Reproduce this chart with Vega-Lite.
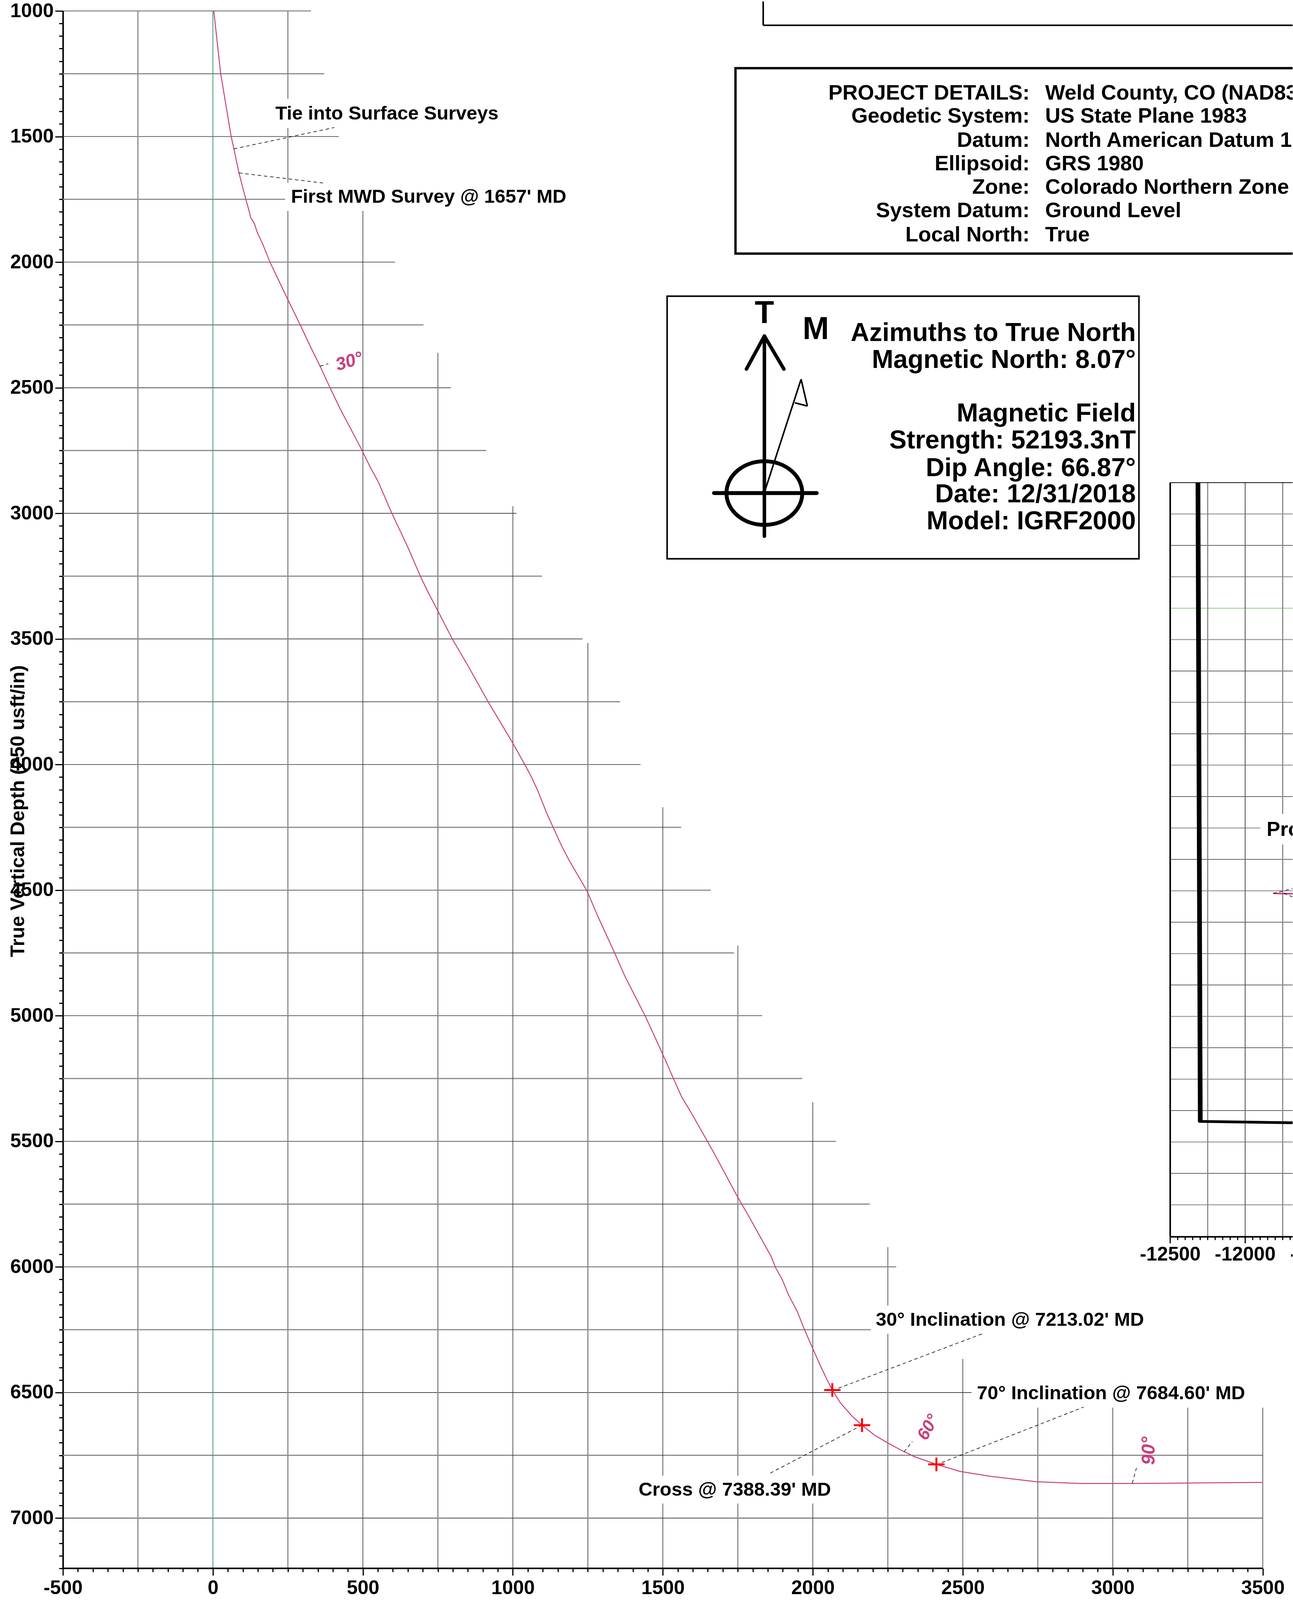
{
"$schema": "https://vega.github.io/schema/vega-lite/v6.json",
"width": 3309,
"height": 4090,
"autosize": {"type": "fit", "contains": "padding"},
"padding": {"left": 21, "top": 0, "right": 0, "bottom": 0},
"background": "white",
"config": {"view": {"stroke": null}, "font": "Liberation Sans"},
"encoding": {
  "x": {"field": "x", "type": "quantitative", "scale": {"domain": [-500, 3599.5], "nice": false, "zero": false},
    "axis": {"values": [-500,-450,-400,-350,-300,-250,-200,-150,-100,-50,0,50,100,150,200,250,300,350,400,450,500,550,600,650,700,750,800,850,900,950,1000,1050,1100,1150,1200,1250,1300,1350,1400,1450,1500,1550,1600,1650,1700,1750,1800,1850,1900,1950,2000,2050,2100,2150,2200,2250,2300,2350,2400,2450,2500,2550,2600,2650,2700,2750,2800,2850,2900,2950,3000,3050,3100,3150,3200,3250,3300,3350,3400,3450,3500],
      "labelExpr": "datum.value % 500 === 0 ? (datum.value < 0 ? '-' + abs(datum.value) : '' + datum.value) : ''",
      "labelOverlap": false, "labelFlush": false, "labelFont": "Liberation Sans", "labelFontSize": 50, "labelFontWeight": "bold", "labelColor": "black", "labelPadding": 7,
      "tickSize": {"condition": {"test": "datum.value % 500 === 0", "value": 18}, "value": 9},
      "tickWidth": 3, "tickColor": "black", "domain": false, "grid": false, "title": null}},
  "y": {"field": "y", "type": "quantitative", "scale": {"domain": [1000, 7200], "nice": false, "zero": false, "reverse": true},
    "axis": {"tickCount": 124, "labelExpr": "datum.value % 500 === 0 ? '' + datum.value : ''",
      "labelOverlap": false, "labelFlush": false, "labelFont": "Liberation Sans", "labelFontSize": 50, "labelFontWeight": "bold", "labelColor": "black", "labelPadding": 4,
      "tickSize": {"condition": {"test": "datum.value % 500 === 0", "value": 20}, "value": 10},
      "tickWidth": 3, "tickColor": "black", "domainColor": "black", "domainWidth": 4, "grid": false,
      "title": "True Vertical Depth (250 usft/in)", "titleFont": "Liberation Sans", "titleFontSize": 50, "titleFontWeight": "bold", "titleColor": "black",
      "titleX": -100, "titleY": 2048, "titleAngle": -90, "titleBaseline": "alphabetic", "titleAlign": "center"}}
},
"layer": [
  {"data": {"values": [
    {"x": -500, "y": 1250, "x2": 371}, {"x": -500, "y": 1750, "x2": 241}, {"x": -500, "y": 2250, "x2": 702},
    {"x": -500, "y": 2750, "x2": 911}, {"x": -500, "y": 3250, "x2": 1097}, {"x": -500, "y": 3750, "x2": 1357},
    {"x": -500, "y": 4250, "x2": 1561}, {"x": -500, "y": 4750, "x2": 1737}, {"x": -500, "y": 5250, "x2": 1965},
    {"x": -500, "y": 5750, "x2": 2190}, {"x": -500, "y": 6250, "x2": 2193}, {"x": -500, "y": 6750, "x2": 3500}]},
   "mark": {"type": "rule", "color": "#8a8a8a", "strokeWidth": 3}, "encoding": {"x2": {"field": "x2"}}},
  {"data": {"values": [
    {"x": -500, "y": 1000, "x2": 327}, {"x": -500, "y": 1500, "x2": 420}, {"x": -500, "y": 2000, "x2": 607},
    {"x": -500, "y": 2500, "x2": 793}, {"x": -500, "y": 3000, "x2": 1012}, {"x": -500, "y": 3500, "x2": 1232},
    {"x": -500, "y": 4000, "x2": 1426}, {"x": -500, "y": 4500, "x2": 1660}, {"x": -500, "y": 5000, "x2": 1831},
    {"x": -500, "y": 5500, "x2": 2077}, {"x": -500, "y": 6000, "x2": 2278}, {"x": -500, "y": 6500, "x2": 2529},
    {"x": -500, "y": 7000, "x2": 3500}]},
   "mark": {"type": "rule", "color": "#333333", "strokeWidth": 1.6}, "encoding": {"x2": {"field": "x2"}}},
  {"data": {"values": [
    {"x": -250, "y": 1000, "y2": 7200}, {"x": 250, "y": 1000, "y2": 7200}, {"x": 750, "y": 2361, "y2": 7200},
    {"x": 1250, "y": 3516, "y2": 7200}, {"x": 1750, "y": 4721, "y2": 7200}, {"x": 2250, "y": 5921, "y2": 7200},
    {"x": 2750, "y": 6560, "y2": 7200}, {"x": 3250, "y": 6560, "y2": 7200}]},
   "mark": {"type": "rule", "color": "#8a8a8a", "strokeWidth": 3}, "encoding": {"y2": {"field": "y2"}}},
  {"data": {"values": [
    {"x": 500, "y": 1700, "y2": 7200}, {"x": 1000, "y": 2972, "y2": 7200}, {"x": 1500, "y": 4170, "y2": 7200},
    {"x": 2000, "y": 5345, "y2": 7200}, {"x": 2500, "y": 6366, "y2": 7200}, {"x": 3000, "y": 6560, "y2": 7200},
    {"x": 3500, "y": 6560, "y2": 7200}]},
   "mark": {"type": "rule", "color": "#333333", "strokeWidth": 1.6}, "encoding": {"y2": {"field": "y2"}}},
  {"data": {"values": [{"x": 0, "y": 1000, "y2": 7200}]},
   "mark": {"type": "rule", "color": "#3c9a70", "strokeWidth": 2}, "encoding": {"y2": {"field": "y2"}}},
  {"data": {"values": [{"x": -500, "y": 7200, "x2": 3500}]},
   "mark": {"type": "rule", "color": "black", "strokeWidth": 4}, "encoding": {"x2": {"field": "x2"}}},
  {"data": {"values": [
    {"x": 200, "x2": 1030, "y": 1350, "y2": 1466}, {"x": 241, "x2": 1290, "y": 1684, "y2": 1796},
    {"x": 2195, "x2": 3210, "y": 6154, "y2": 6266}, {"x": 1400, "x2": 2130, "y": 6831, "y2": 6942}]},
   "mark": {"type": "rect", "fill": "white"}, "encoding": {"x2": {"field": "x2"}, "y2": {"field": "y2"}}},
  {"data": {"values": [{"x": 1834.6, "y": 962, "y2": 1057.3}]},
   "mark": {"type": "rule", "color": "black", "strokeWidth": 4}, "encoding": {"y2": {"field": "y2"}}},
  {"data": {"values": [{"x": 1834.6, "x2": 3599.5, "y": 1057.3}]},
   "mark": {"type": "rule", "color": "black", "strokeWidth": 4, "clip": true}, "encoding": {"x2": {"field": "x2"}}},
  {"data": {"values": [{"x": 1514.3, "x2": 3087.2, "y": 2135.4, "y2": 3181}]},
   "mark": {"type": "rect", "fill": "white", "stroke": "black", "strokeWidth": 4}, "encoding": {"x2": {"field": "x2"}, "y2": {"field": "y2"}}},
  {"data": {"values": [{"x": 1742.2, "x2": 3700, "y": 1227.9, "y2": 1966.1}]},
   "mark": {"type": "rect", "fill": "white", "stroke": "black", "strokeWidth": 6, "clip": true}, "encoding": {"x2": {"field": "x2"}, "y2": {"field": "y2"}}},
  {"data": {"values": [{"x": 3191.4, "x2": 3599.5, "y": 2877.6, "y2": 5880.2}]},
   "mark": {"type": "rect", "fill": "white", "clip": true}, "encoding": {"x2": {"field": "x2"}, "y2": {"field": "y2"}}},
  {"data": {"values": [
    {"x": 3191.4, "x2": 3599.5, "y": 3002.6}, {"x": 3191.4, "x2": 3599.5, "y": 3252.6}, {"x": 3191.4, "x2": 3599.5, "y": 3502.6},
    {"x": 3191.4, "x2": 3599.5, "y": 3752.6}, {"x": 3191.4, "x2": 3599.5, "y": 4002.6}, {"x": 3191.4, "x2": 3599.5, "y": 4252.6},
    {"x": 3191.4, "x2": 3599.5, "y": 4502.6}, {"x": 3191.4, "x2": 3599.5, "y": 4752.6}, {"x": 3191.4, "x2": 3599.5, "y": 5002.6},
    {"x": 3191.4, "x2": 3599.5, "y": 5252.6}, {"x": 3191.4, "x2": 3599.5, "y": 5502.6}, {"x": 3191.4, "x2": 3599.5, "y": 5752.6}]},
   "mark": {"type": "rule", "color": "#9a9a9a", "strokeWidth": 2.5, "clip": true}, "encoding": {"x2": {"field": "x2"}}},
  {"data": {"values": [
    {"x": 3191.4, "x2": 3599.5, "y": 3127.6}, {"x": 3191.4, "x2": 3599.5, "y": 3627.6}, {"x": 3191.4, "x2": 3599.5, "y": 3877.6},
    {"x": 3191.4, "x2": 3599.5, "y": 4127.6}, {"x": 3191.4, "x2": 3599.5, "y": 4377.6}, {"x": 3191.4, "x2": 3599.5, "y": 4627.6},
    {"x": 3191.4, "x2": 3599.5, "y": 4877.6}, {"x": 3191.4, "x2": 3599.5, "y": 5127.6}, {"x": 3191.4, "x2": 3599.5, "y": 5377.6},
    {"x": 3191.4, "x2": 3599.5, "y": 5627.6}]},
   "mark": {"type": "rule", "color": "#333333", "strokeWidth": 1.5, "clip": true}, "encoding": {"x2": {"field": "x2"}}},
  {"data": {"values": [{"x": 3191.4, "x2": 3599.5, "y": 3377.6}]},
   "mark": {"type": "rule", "color": "#5cc05c", "strokeWidth": 1.5, "clip": true}, "encoding": {"x2": {"field": "x2"}}},
  {"data": {"values": [{"x": 3316.4, "y": 2877.6, "y2": 5880.2}, {"x": 3566.4, "y": 2877.6, "y2": 5880.2}]},
   "mark": {"type": "rule", "color": "#8a8a8a", "strokeWidth": 3}, "encoding": {"y2": {"field": "y2"}}},
  {"data": {"values": [{"x": 3441.4, "y": 2877.6, "y2": 5880.2}]},
   "mark": {"type": "rule", "color": "#666666", "strokeWidth": 2.5}, "encoding": {"y2": {"field": "y2"}}},
  {"data": {"values": [{"x": 3492, "x2": 3599.5, "y": 4197, "y2": 4318}]},
   "mark": {"type": "rect", "fill": "white", "clip": true}, "encoding": {"x2": {"field": "x2"}, "y2": {"field": "y2"}}},
  {"data": {"values": [{"x": 3191.4, "y": 2877.6, "y2": 5880.2}]},
   "mark": {"type": "rule", "color": "black", "strokeWidth": 4}, "encoding": {"y2": {"field": "y2"}}},
  {"data": {"values": [{"x": 3191.4, "x2": 3599.5, "y": 5880.2}]},
   "mark": {"type": "rule", "color": "black", "strokeWidth": 4, "clip": true}, "encoding": {"x2": {"field": "x2"}}},
  {"data": {"values": [{"x": 3191.4, "x2": 3599.5, "y": 2877.6}]},
   "mark": {"type": "rule", "color": "black", "strokeWidth": 2, "clip": true}, "encoding": {"x2": {"field": "x2"}}},
  {"data": {"values": [
    {"x": 3216.4, "y": 5880.2, "y2": 5893}, {"x": 3241.4, "y": 5880.2, "y2": 5893}, {"x": 3266.4, "y": 5880.2, "y2": 5893},
    {"x": 3291.4, "y": 5880.2, "y2": 5893}, {"x": 3316.4, "y": 5880.2, "y2": 5893}, {"x": 3341.4, "y": 5880.2, "y2": 5893},
    {"x": 3366.4, "y": 5880.2, "y2": 5893}, {"x": 3391.4, "y": 5880.2, "y2": 5893}, {"x": 3416.4, "y": 5880.2, "y2": 5893},
    {"x": 3466.4, "y": 5880.2, "y2": 5893}, {"x": 3491.4, "y": 5880.2, "y2": 5893}, {"x": 3516.4, "y": 5880.2, "y2": 5893},
    {"x": 3541.4, "y": 5880.2, "y2": 5893}, {"x": 3566.4, "y": 5880.2, "y2": 5893}, {"x": 3591.4, "y": 5880.2, "y2": 5893},
    {"x": 3191.4, "y": 5880.2, "y2": 5906}, {"x": 3441.4, "y": 5880.2, "y2": 5906}]},
   "mark": {"type": "rule", "color": "black", "strokeWidth": 3}, "encoding": {"y2": {"field": "y2"}}},
  {"data": {"values": [{"x": 3191.4, "y": 5975, "t": "-12500"}, {"x": 3441.4, "y": 5975, "t": "-12000"}, {"x": 3691.4, "y": 5975, "t": "-11500"}]},
   "mark": {"type": "text", "font": "Liberation Sans", "fontSize": 50, "fontWeight": "bold", "align": "center", "baseline": "alphabetic", "color": "black", "clip": true},
   "encoding": {"text": {"field": "t"}}},
  {"data": {"values": [{"x": 3283.9, "y": 2877.6, "x2": 3291.7, "y2": 5423.2}]},
   "mark": {"type": "rule", "color": "black", "strokeWidth": 12}, "encoding": {"x2": {"field": "x2"}, "y2": {"field": "y2"}}},
  {"data": {"values": [{"x": 3286, "y": 5420.6, "x2": 3599.5, "y2": 5426}]},
   "mark": {"type": "rule", "color": "black", "strokeWidth": 7, "clip": true}, "encoding": {"x2": {"field": "x2"}, "y2": {"field": "y2"}}},
  {"data": {"values": [{"x": 3535.2, "y": 4513, "x2": 3599.5, "y2": 4514.5}]},
   "mark": {"type": "rule", "color": "#c8407f", "strokeWidth": 4, "clip": true}, "encoding": {"x2": {"field": "x2"}, "y2": {"field": "y2"}}},
  {"data": {"values": [{"x": 3513, "y": 4283.9, "t": "Project"}]},
   "mark": {"type": "text", "font": "Liberation Sans", "fontSize": 52, "fontWeight": "bold", "align": "left", "baseline": "alphabetic", "color": "black", "clip": true},
   "encoding": {"text": {"field": "t"}}},
  {"data": {"values": [
    {"x": 3, "y": 1000}, {"x": 26, "y": 1250}, {"x": 61, "y": 1500}, {"x": 70, "y": 1549}, {"x": 87, "y": 1645},
    {"x": 110, "y": 1751}, {"x": 119, "y": 1789}, {"x": 126, "y": 1822}, {"x": 139, "y": 1848}, {"x": 147, "y": 1879},
    {"x": 166, "y": 1928}, {"x": 191, "y": 2002}, {"x": 219, "y": 2072}, {"x": 249, "y": 2147}, {"x": 292, "y": 2252},
    {"x": 325, "y": 2336}, {"x": 358, "y": 2416}, {"x": 391, "y": 2501}, {"x": 425, "y": 2586}, {"x": 458, "y": 2660},
    {"x": 498, "y": 2751}, {"x": 524, "y": 2815}, {"x": 551, "y": 2874}, {"x": 571, "y": 2929}, {"x": 597, "y": 3001},
    {"x": 624, "y": 3069}, {"x": 651, "y": 3138}, {"x": 692, "y": 3251}, {"x": 716, "y": 3311}, {"x": 749, "y": 3386},
    {"x": 799, "y": 3502}, {"x": 851, "y": 3608}, {"x": 918, "y": 3751}, {"x": 999, "y": 3913}, {"x": 1041, "y": 4003},
    {"x": 1060, "y": 4045}, {"x": 1083, "y": 4104}, {"x": 1112, "y": 4191}, {"x": 1135, "y": 4252}, {"x": 1161, "y": 4320},
    {"x": 1187, "y": 4380}, {"x": 1247, "y": 4503}, {"x": 1284, "y": 4606}, {"x": 1340, "y": 4752}, {"x": 1374, "y": 4844},
    {"x": 1412, "y": 4933}, {"x": 1442, "y": 5003}, {"x": 1500, "y": 5154}, {"x": 1536, "y": 5252}, {"x": 1562, "y": 5321},
    {"x": 1592, "y": 5381}, {"x": 1650, "y": 5503}, {"x": 1674, "y": 5554}, {"x": 1749, "y": 5721}, {"x": 1786, "y": 5797},
    {"x": 1861, "y": 5958}, {"x": 1876, "y": 6003}, {"x": 1898, "y": 6050}, {"x": 1919, "y": 6111}, {"x": 1949, "y": 6180},
    {"x": 1973, "y": 6252}, {"x": 1998, "y": 6320}, {"x": 2024, "y": 6390}, {"x": 2047, "y": 6448}, {"x": 2065, "y": 6490},
    {"x": 2092, "y": 6541}, {"x": 2130, "y": 6593}, {"x": 2164, "y": 6630}, {"x": 2205, "y": 6669}, {"x": 2250, "y": 6701},
    {"x": 2295, "y": 6730}, {"x": 2340, "y": 6756}, {"x": 2412, "y": 6786}, {"x": 2490, "y": 6814}, {"x": 2595, "y": 6834},
    {"x": 2745, "y": 6855}, {"x": 2895, "y": 6862}, {"x": 3065, "y": 6862}, {"x": 3271, "y": 6860}, {"x": 3500, "y": 6858}]},
   "mark": {"type": "line", "color": "#c8407f", "strokeWidth": 2.5}, "encoding": {}},
  {"data": {"values": [
    {"x": 70, "y": 1549, "x2": 405, "y2": 1464}, {"x": 87, "y": 1645, "x2": 367, "y2": 1685},
    {"x": 358, "y": 2414, "x2": 385, "y2": 2404}, {"x": 2085, "y": 6483, "x2": 2565, "y2": 6266},
    {"x": 2164, "y": 6630, "x2": 1852, "y2": 6825}, {"x": 2430, "y": 6779, "x2": 2903, "y2": 6558},
    {"x": 2304, "y": 6736, "x2": 2332, "y2": 6695}, {"x": 3065, "y": 6861, "x2": 3079, "y2": 6800},
    {"x": 3535, "y": 4513, "x2": 3599, "y2": 4494}, {"x": 3570, "y": 4512, "x2": 3599, "y2": 4527}]},
   "mark": {"type": "rule", "color": "black", "strokeWidth": 1.5, "strokeDash": [9, 7]}, "encoding": {"x2": {"field": "x2"}, "y2": {"field": "y2"}}},
  {"data": {"values": [{"x": 2065, "y": 6490}, {"x": 2164, "y": 6630}, {"x": 2412, "y": 6786}]},
   "mark": {"type": "point", "shape": "M-1,0L1,0M0,-0.84L0,0.84", "size": 1764, "filled": false, "stroke": "#ff0000", "strokeWidth": 5, "opacity": 1}},
  {"data": {"values": [
    {"x": 208.3, "y": 1432.3, "t": "Tie into Surface Surveys"},
    {"x": 260.4, "y": 1764.3, "t": "First MWD Survey @  1657' MD"},
    {"x": 2210, "y": 6234, "t": "30° Inclination @  7213.02' MD"},
    {"x": 2547, "y": 6526, "t": "70° Inclination @ 7684.60' MD"},
    {"x": 1419, "y": 6910, "t": "Cross @ 7388.39' MD"}]},
   "mark": {"type": "text", "font": "Liberation Sans", "fontSize": 49, "fontWeight": "bold", "align": "left", "baseline": "alphabetic", "color": "black"},
   "encoding": {"text": {"field": "t"}}},
  {"data": {"values": [{"x": 454.4, "y": 2395.8, "t": "30°"}]},
   "mark": {"type": "text", "font": "Liberation Sans", "fontSize": 46, "fontWeight": "bold", "fontStyle": "italic", "align": "center", "baseline": "middle", "angle": -17, "color": "#c8407f"},
   "encoding": {"text": {"field": "t"}}},
  {"data": {"values": [{"x": 2385, "y": 6639, "t": "60°"}]},
   "mark": {"type": "text", "font": "Liberation Sans", "fontSize": 44, "fontWeight": "bold", "fontStyle": "italic", "align": "center", "baseline": "middle", "angle": -61, "color": "#c8407f"},
   "encoding": {"text": {"field": "t"}}},
  {"data": {"values": [{"x": 3121, "y": 6732, "t": "90°"}]},
   "mark": {"type": "text", "font": "Liberation Sans", "fontSize": 48, "fontWeight": "bold", "fontStyle": "italic", "align": "center", "baseline": "middle", "angle": -90, "color": "#c8407f"},
   "encoding": {"text": {"field": "t"}}},
  {"data": {"values": [
    {"x": 2722.7, "y": 1352.9, "t": "PROJECT DETAILS:"}, {"x": 2722.7, "y": 1445.3, "t": "Geodetic  System:"},
    {"x": 2722.7, "y": 1540.4, "t": "Datum:"}, {"x": 2722.7, "y": 1634.1, "t": "Ellipsoid:"},
    {"x": 2722.7, "y": 1727.9, "t": "Zone:"}, {"x": 2722.7, "y": 1821.6, "t": "System Datum:"},
    {"x": 2722.7, "y": 1918.0, "t": "Local North:"}]},
   "mark": {"type": "text", "font": "Liberation Sans", "fontSize": 54, "fontWeight": "bold", "align": "right", "baseline": "alphabetic", "color": "black"},
   "encoding": {"text": {"field": "t"}}},
  {"data": {"values": [
    {"x": 2774.7, "y": 1352.9, "t": "Weld County, CO (NAD83)"}, {"x": 2774.7, "y": 1445.3, "t": "US State Plane 1983"},
    {"x": 2774.7, "y": 1540.4, "t": "North American Datum 1983"}, {"x": 2774.7, "y": 1634.1, "t": "GRS 1980"},
    {"x": 2774.7, "y": 1727.9, "t": "Colorado Northern Zone"}, {"x": 2774.7, "y": 1821.6, "t": "Ground Level"},
    {"x": 2774.7, "y": 1918.0, "t": "True"}]},
   "mark": {"type": "text", "font": "Liberation Sans", "fontSize": 54, "fontWeight": "bold", "align": "left", "baseline": "alphabetic", "color": "black", "clip": true},
   "encoding": {"text": {"field": "t"}}},
  {"data": {"values": [
    {"x": 3076.8, "y": 2313.8, "t": "Azimuths to True North"}, {"x": 3076.8, "y": 2421.9, "t": "Magnetic North: 8.07°"},
    {"x": 3076.8, "y": 2634.1, "t": "Magnetic  Field"}, {"x": 3076.8, "y": 2742.2, "t": "Strength: 52193.3nT"},
    {"x": 3076.8, "y": 2851.6, "t": "Dip Angle: 66.87°"}, {"x": 3076.8, "y": 2955.7, "t": "Date: 12/31/2018"},
    {"x": 3076.8, "y": 3063.8, "t": "Model: IGRF2000"}]},
   "mark": {"type": "text", "font": "Liberation Sans", "fontSize": 66, "fontWeight": "bold", "align": "right", "baseline": "alphabetic", "color": "black"},
   "encoding": {"text": {"field": "t"}}},
  {"data": {"values": [{"x": 1838.5, "y": 2242.2, "t": "T"}]},
   "mark": {"type": "text", "font": "Liberation Sans", "fontSize": 81, "fontWeight": "bold", "align": "center", "baseline": "alphabetic", "color": "black"},
   "encoding": {"text": {"field": "t"}}},
  {"data": {"values": [{"x": 1966.1, "y": 2306, "t": "M"}]},
   "mark": {"type": "text", "font": "Liberation Sans", "fontSize": 81, "fontWeight": "bold", "align": "left", "baseline": "alphabetic", "color": "black"},
   "encoding": {"text": {"field": "t"}}},
  {"data": {"values": [
    {"x": 1838.5, "y": 2294.3, "x2": 1838.5, "y2": 3091.1},
    {"x": 1838.5, "y": 2294.3, "x2": 1778.6, "y2": 2425.8},
    {"x": 1838.5, "y": 2294.3, "x2": 1903.6, "y2": 2425.8}]},
   "mark": {"type": "rule", "color": "black", "strokeWidth": 9, "strokeCap": "round"}, "encoding": {"x2": {"field": "x2"}, "y2": {"field": "y2"}}},
  {"data": {"values": [{"x": 1670.6, "y": 2919.3, "x2": 2013, "y2": 2919.3}]},
   "mark": {"type": "rule", "color": "black", "strokeWidth": 10, "strokeCap": "round"}, "encoding": {"x2": {"field": "x2"}, "y2": {"field": "y2"}}},
  {"data": {"values": [
    {"x": 1841.1, "y": 2907.6, "x2": 1960.9, "y2": 2466.1},
    {"x": 1960.9, "y": 2466.1, "x2": 1981.8, "y2": 2572.9},
    {"x": 1981.8, "y": 2572.9, "x2": 1940.1, "y2": 2559.9}]},
   "mark": {"type": "rule", "color": "black", "strokeWidth": 4}, "encoding": {"x2": {"field": "x2"}, "y2": {"field": "y2"}}},
  {"data": {"values": [{"x": 1838.5, "y": 2919.3}]},
   "mark": {"type": "point", "shape": "M1,0C1,0.464 0.552,0.84 0,0.84C-0.552,0.84 -1,0.464 -1,0C-1,-0.464 -0.552,-0.84 0,-0.84C0.552,-0.84 1,-0.464 1,0Z", "size": 37636, "filled": false, "stroke": "black", "strokeWidth": 10, "opacity": 1}}
]
}
